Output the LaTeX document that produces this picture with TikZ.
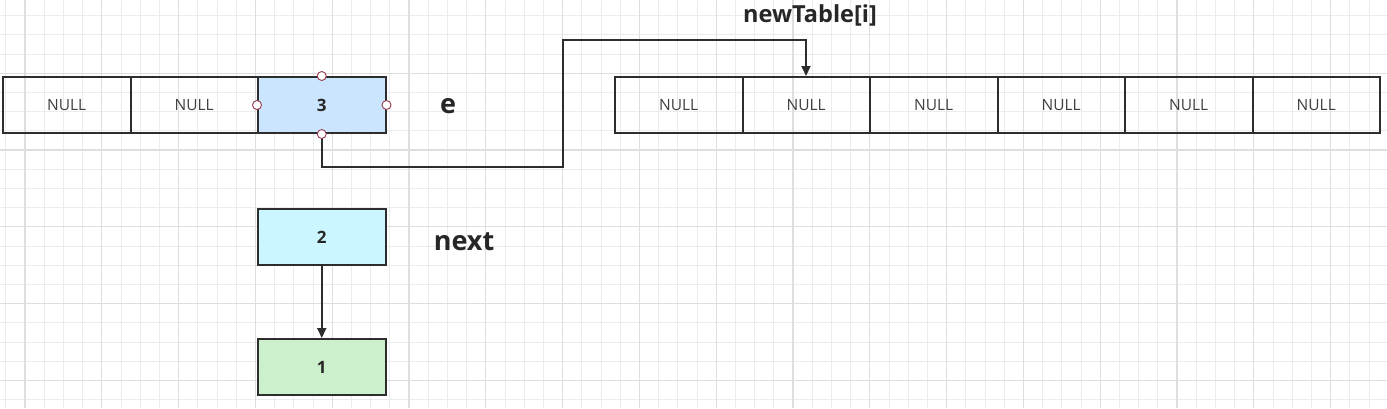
\documentclass[tikz,border=0pt]{standalone}
\usepackage{fontspec}
\setmainfont{Open Sans}
\usetikzlibrary{arrows.meta}
\definecolor{gridminor}{RGB}{236,236,236}
\definecolor{gridmajor}{RGB}{222,222,222}
\definecolor{linec}{RGB}{45,45,45}
\definecolor{selblue}{RGB}{204,229,255}
\definecolor{cyanfill}{RGB}{204,246,255}
\definecolor{greenfill}{RGB}{204,240,204}
\definecolor{handlec}{RGB}{150,60,80}
\tikzset{
  cell/.style={draw=linec, line width=2pt, minimum width=127.5pt, minimum height=56pt, inner sep=0pt, anchor=north west, font=\fontsize{15.5}{18}\selectfont, text=black!75},
  valbox/.style={cell, font=\fontsize{17}{20}\selectfont\bfseries, text=black!85},
  label/.style={font=\fontsize{27}{30}\selectfont\bfseries, text=black!85, inner sep=0pt},
  conn/.style={draw=linec, line width=2pt, -{Triangle[length=10pt,width=9pt]}},
  handle/.style={circle, draw=handlec, fill=white, line width=0.9pt, minimum size=9pt, inner sep=0pt}
}
\begin{document}
\begin{tikzpicture}[x=1pt,y=-1pt]
\useasboundingbox (0,0) rectangle (1387,408);
\fill[white] (0,0) rectangle (1387,408);
% grid
\foreach \i in {0,...,72} {
  \draw[gridminor, line width=0.9pt] ({5.8+19.2*\i},0) -- ({5.8+19.2*\i},408);
}
\foreach \j in {0,...,21} {
  \draw[gridminor, line width=0.9pt] (0,{-3.6+19.2*\j}) -- (1387,{-3.6+19.2*\j});
}
\foreach \i in {0,...,18} {
  \draw[gridmajor, line width=1.1pt] ({25+76.8*\i},0) -- ({25+76.8*\i},408);
}
\foreach \j in {0,...,5} {
  \draw[gridmajor, line width=1.1pt] (0,{-3.6+76.8*\j}) -- (1387,{-3.6+76.8*\j});
}
% left table
\node[cell] (l1) at (2,76) {NULL};
\node[cell] (l2) at (129.5,76) {NULL};
\node[valbox, fill=selblue] (l3) at (257,76) {3};
\node[label, anchor=center] (e) at (448,106) {e};
% right table
\node[cell] (r1) at (614,76) {NULL};
\node[cell] (r2) at (741.5,76) {NULL};
\node[cell] (r3) at (869,76) {NULL};
\node[cell] (r4) at (996.5,76) {NULL};
\node[cell] (r5) at (1124,76) {NULL};
\node[cell] (r6) at (1251.5,76) {NULL};
\node[label, anchor=center, font=\fontsize{23.5}{27}\selectfont\bfseries] (nt) at (810,15) {newTable[i]};
% chain
\node[valbox, fill=cyanfill] (n2) at (257,208) {2};
\node[label, anchor=center] (next) at (464,242) {next};
\node[valbox, fill=greenfill] (n1) at (257,338) {1};
% connectors
\coordinate (c2) at (563,167);
\coordinate (c3) at (563,40);
\coordinate (c4) at (806,40);
\draw[conn] (l3.south) |- (c2) -- (c3) -- (c4) -- (r2.north -| c4);
\draw[conn] (n2.south) -- (n1.north);
% selection handles
\node[handle] (h1) at (l3.north) {};
\node[handle] (h2) at (l3.south) {};
\node[handle] (h3) at (l3.west) {};
\node[handle] (h4) at (l3.east) {};
\end{tikzpicture}
\end{document}
